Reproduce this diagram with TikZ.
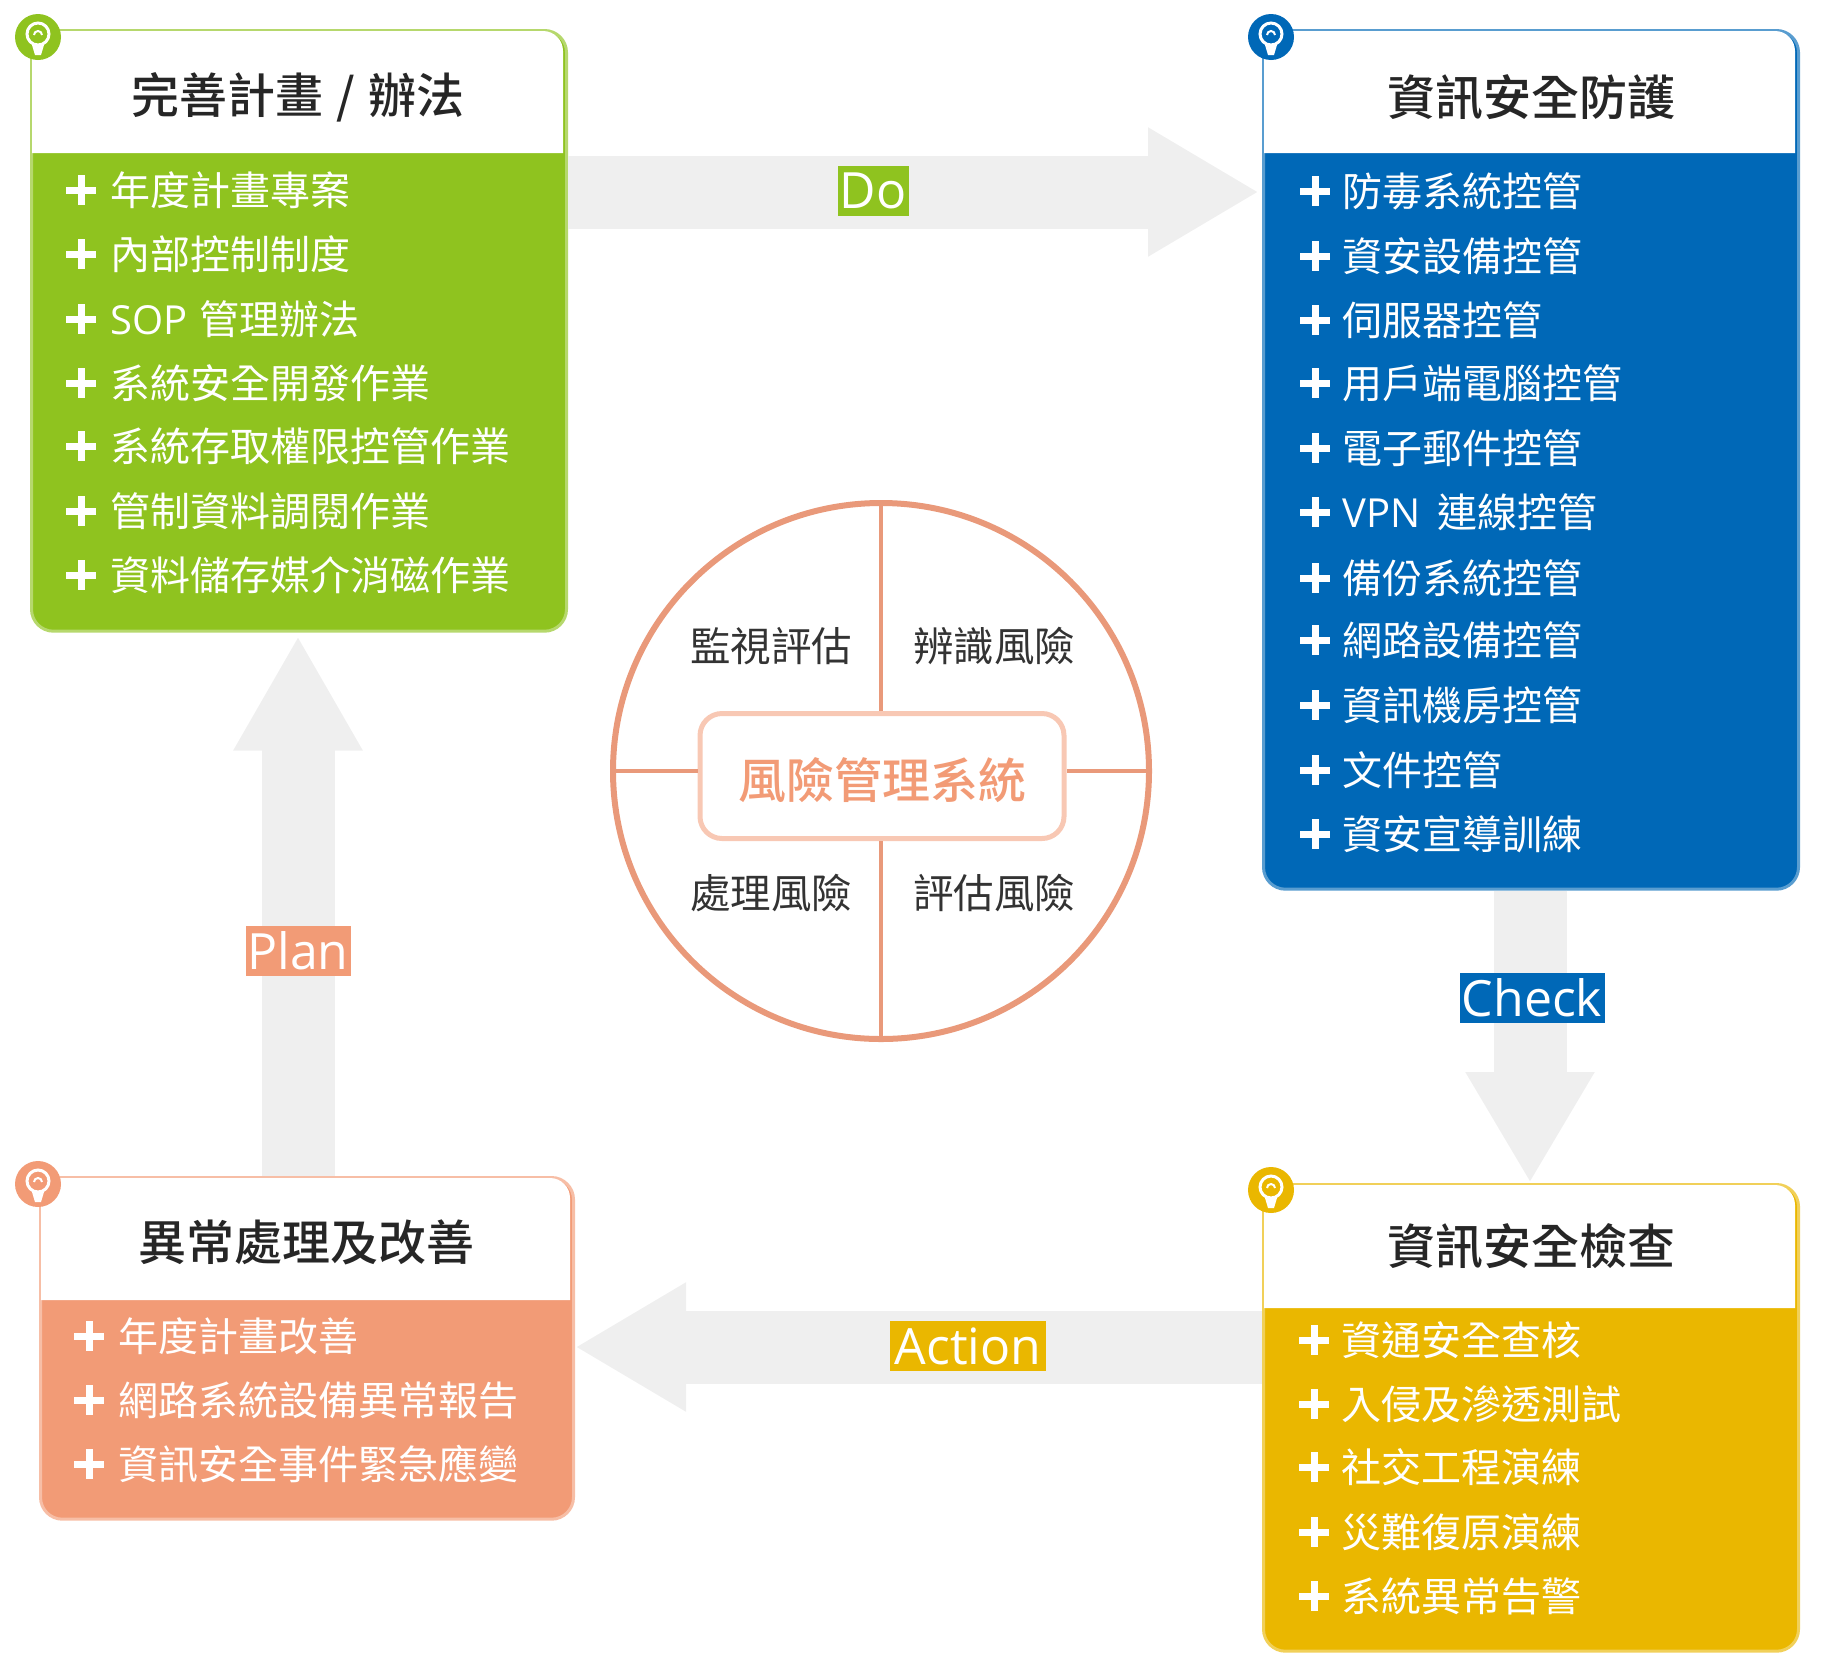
\documentclass[tikz,border=0pt]{standalone}
\usepackage{fontspec}
\setmainfont{Noto Sans CJK TC}
\newfontfamily\lat{Open Sans}
\newfontfamily\midf{Noto Sans CJK TC Medium}
\usetikzlibrary{arrows.meta}
\definecolor{cgreen}{HTML}{8FC31F}
\definecolor{cblue}{HTML}{0068B7}
\definecolor{corange}{HTML}{F29B76}
\definecolor{cyellow}{HTML}{EAB700}
\definecolor{cring}{HTML}{E9997A}
\definecolor{cgray}{HTML}{EFEFEF}
\newcommand{\fsz}[1]{\fontsize{#1}{#1}\selectfont}
\tikzset{
  x=1pt,y=-1pt,
  frame/.style={rectangle,rounded corners=22pt,draw=#1!65,fill=#1,line width=3pt,inner sep=0pt,anchor=north west},
  headbox/.style={fill=white,rounded corners=20pt},
  titletext/.style={font=\midf\fsz{48},text=black!85,inner sep=0pt},
  itemtext/.style={font=\fsz{40},text=white,anchor=west,inner sep=0pt},
  quadtext/.style={font=\fsz{40.5},text=black!80,inner sep=0pt},
  tag/.style={fill=#1,text=white,font=\lat\fsz{50},inner sep=0pt,minimum height=50pt},
  bigarrow/.style={draw=cgray,line width=73pt,-{Triangle[length=111pt,width=121pt,fill=cgray]}},
  plusmark/.pic={\draw[white,line width=7pt] (-15,0) -- (15,0) (0,-15) -- (0,15);},
  bulbmark/.pic={\fill[#1] (0,0) circle (23);
    \draw[white,line width=3pt] (0,-3) circle (11);
    \fill[white] (-6,8) -- (6,8) -- (3,18) -- (-3,18) -- cycle;
    \draw[white,line width=2pt] (-4,-2) arc (180:360:4);},
  bulbmark/.default=black
}
\begin{document}
\begin{tikzpicture}
\useasboundingbox (0,0) rectangle (1822,1668);
% panel frames
\node[frame=cgreen,minimum width=535pt,minimum height=600.7pt] (gp) at (30,29) {};
\node[frame=cblue,minimum width=535pt,minimum height=858.7pt] (bp) at (1262,29) {};
\node[frame=corange,minimum width=533pt,minimum height=341.7pt] (op) at (39,1176) {};
\node[frame=cyellow,minimum width=535pt,minimum height=466.7pt] (yp) at (1262,1183) {};
% block arrows between panels
\coordinate (doy) at (0,192);
\coordinate (chx) at (1530,0);
\coordinate (acy) at (0,1347);
\coordinate (plx) at (298,0);
\draw[bigarrow,shorten >=3pt] (gp.east |- doy) -- (bp.west |- doy);
\draw[bigarrow] (bp.south -| chx) -- (yp.north -| chx);
\draw[bigarrow] (yp.west |- acy) -- (op.east |- acy);
\draw[bigarrow,-{Triangle[length=115pt,width=121pt,fill=cgray]},shorten >=3pt] (op.north -| plx) -- (gp.south -| plx);
% white headers
\fill[headbox] (32,153) [sharp corners] -- (32,50) [rounded corners=20pt] -- (32,31) -- (563,31) [sharp corners] -- (563,153) -- cycle;
\fill[headbox] (1264,153) [sharp corners] -- (1264,50) [rounded corners=20pt] -- (1264,31) -- (1795,31) [sharp corners] -- (1795,153) -- cycle;
\fill[headbox] (41,1300) [sharp corners] -- (41,1200) [rounded corners=20pt] -- (41,1178) -- (570,1178) [sharp corners] -- (570,1300) -- cycle;
\fill[headbox] (1264,1308) [sharp corners] -- (1264,1205) [rounded corners=20pt] -- (1264,1185) -- (1795,1185) [sharp corners] -- (1795,1308) -- cycle;
% bulbs
\pic at (38,37) {bulbmark=cgreen};
\pic at (1271,37) {bulbmark=cblue};
\pic at (38,1184) {bulbmark=corange};
\pic at (1271,1190) {bulbmark=cyellow};
% titles
\node[titletext] (gt) at (298,97) {完善計畫\hspace{2pt} / \hspace{2pt}辦法};
\node[titletext] (bt) at (1531,97) {資訊安全防護};
\node[titletext] (ot) at (306,1242) {異常處理及改善};
\node[titletext] (yt) at (1531,1246) {資訊安全檢查};
% items
\foreach \n/\y/\t in {1/190/年度計畫專案,2/254/內部控制制度,3/319/{\lat SOP}\hspace{3pt} 管理辦法,4/383/系統安全開發作業,5/446/系統存取權限控管作業,6/511/管制資料調閱作業,7/575/資料儲存媒介消磁作業}{
  \pic at (81,\y) {plusmark};
  \node[itemtext] (g\n) at (110,\y) {\t};
}
\foreach \n/\y/\t in {1/191/防毒系統控管,2/256/資安設備控管,3/320/伺服器控管,4/383/用戶端電腦控管,5/448/電子郵件控管,6/512/{\lat VPN}\hspace{8pt} 連線控管,7/578/備份系統控管,8/640/網路設備控管,9/705/資訊機房控管,10/770/文件控管,11/834/資安宣導訓練}{
  \pic at (1315,\y) {plusmark};
  \node[itemtext] (b\n) at (1342,\y) {\t};
}
\foreach \n/\y/\t in {1/1336/年度計畫改善,2/1400/網路系統設備異常報告,3/1464/資訊安全事件緊急應變}{
  \pic at (89,\y) {plusmark};
  \node[itemtext] (o\n) at (118,\y) {\t};
}
\foreach \n/\y/\t in {1/1340/資通安全查核,2/1404/入侵及滲透測試,3/1467/社交工程演練,4/1532/災難復原演練,5/1596/系統異常告警}{
  \pic at (1314,\y) {plusmark};
  \node[itemtext] (y\n) at (1341,\y) {\t};
}
% arrow labels
\node[tag=cgreen,minimum width=71pt] (tdo) at (873,191) {Do};
\node[tag=cblue,minimum width=145pt] (tch) at (1532,998) {Check};
\node[tag=cyellow,minimum width=156pt] (tac) at (968,1346) {Action};
\node[tag=corange,minimum width=105pt] (tpl) at (298,951) {Plan};
% centre circle
\node[circle,draw=cring,line width=6pt,minimum size=536pt,inner sep=0pt] (risk) at (881,771) {};
\node[rectangle,rounded corners=22pt,draw=corange!55,line width=5pt,minimum width=364pt,minimum height=125pt,inner sep=0pt,text=corange,font=\midf\fsz{48}] (core) at (882,776) {\raisebox{-22pt}[24pt][24pt]{風險管理系統}};
\draw[cring,line width=3.5pt] (risk.north) -- (risk.north |- core.north);
\draw[cring,line width=3.5pt] (risk.south) -- (risk.south |- core.south);
\draw[cring,line width=3.5pt] (risk.west) -- (risk.west -| core.west);
\draw[cring,line width=3.5pt] (risk.east) -- (risk.east -| core.east);
\node[quadtext] (q1) at (771,646) {監視評估};
\node[quadtext] (q2) at (994,646) {辨識風險};
\node[quadtext] (q3) at (771,893) {處理風險};
\node[quadtext] (q4) at (994,893) {評估風險};
\end{tikzpicture}
\end{document}
